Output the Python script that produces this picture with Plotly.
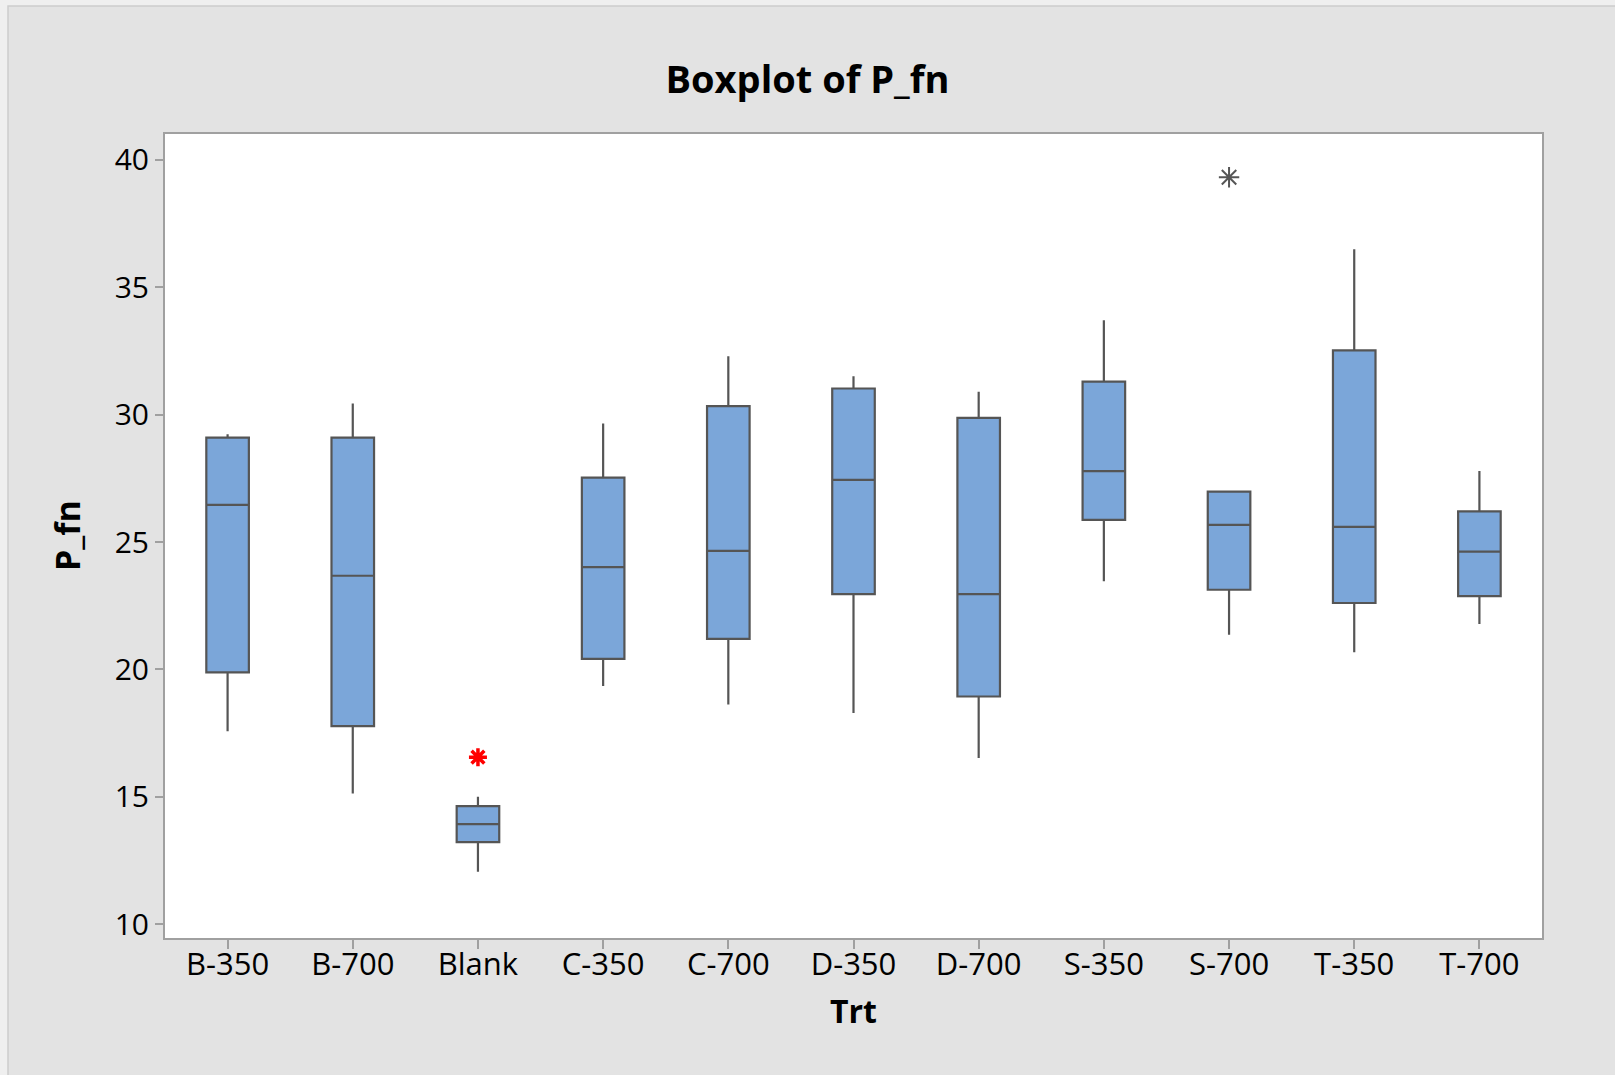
import plotly.graph_objects as go

categories = ["B-350", "B-700", "Blank", "C-350", "C-700", "D-350", "D-700",
              "S-350", "S-700", "T-350", "T-700"]
lower_whisker = [17.58, 15.13, 12.06, 19.35, 18.63, 18.29, 16.53, 23.46, 21.36, 20.68, 21.79]
q1_values     = [19.89, 17.78, 13.22, 20.42, 21.20, 22.96, 18.94, 25.87, 23.13, 22.61, 22.88]
median_values = [26.46, 23.68, 13.93, 24.02, 24.66, 27.44, 22.96, 27.79, 25.68, 25.60, 24.63]
q3_values     = [29.10, 29.10, 14.64, 27.53, 30.34, 31.03, 29.88, 31.30, 26.98, 32.53, 26.21]
upper_whisker = [29.23, 30.44, 15.00, 29.66, 32.30, 31.51, 30.90, 33.71, 26.98, 36.50, 27.79]

outlier_red_cat = ["Blank"]
outlier_red_val = [16.56]
outlier_gray_cat = ["S-700"]
outlier_gray_val = [39.32]

y_ticks = [10, 15, 20, 25, 30, 35, 40]

W, H = 1615, 1075
ML, MR, MT, MB = 165, 73, 134, 137
PW, PH = W - ML - MR, H - MT - MB

def px_x(p):
    return (p - ML) / PW

def px_y(p):
    return (H - MB - p) / PH

FONT = "Open Sans"

fig = go.Figure()

fig.add_trace(go.Box(
    x=categories,
    q1=q1_values,
    median=median_values,
    q3=q3_values,
    lowerfence=lower_whisker,
    upperfence=upper_whisker,
    boxpoints=False,
    width=0.34,
    fillcolor="#7BA6D9",
    line=dict(color="#555555", width=2.2),
    whiskerwidth=0,
    showlegend=False,
    hoverinfo="skip",
))

fig.add_trace(go.Scatter(
    x=outlier_red_cat, y=outlier_red_val, mode="markers",
    marker=dict(symbol="asterisk-open", size=15, color="#FF0000",
                line=dict(color="#FF0000", width=3.5)),
    showlegend=False, hoverinfo="skip",
))
fig.add_trace(go.Scatter(
    x=outlier_gray_cat, y=outlier_gray_val, mode="markers",
    marker=dict(symbol="asterisk-open", size=17, color="#555555",
                line=dict(color="#555555", width=2)),
    showlegend=False, hoverinfo="skip",
))

shapes = [
    dict(type="rect", xref="paper", yref="paper", layer="below",
         x0=px_x(8), x1=px_x(W + 20), y0=px_y(H + 20), y1=px_y(6),
         fillcolor="#E3E3E3", line=dict(color="#CDCDCD", width=1.5)),
    dict(type="rect", xref="paper", yref="paper", layer="below",
         x0=0, x1=1, y0=0, y1=1, fillcolor="#FFFFFF", line=dict(width=0)),
]

annotations = [
    dict(text="<b>P_fn</b>", xref="paper", yref="paper",
         x=px_x(67), y=0.5, textangle=-90, showarrow=False,
         xanchor="center", yanchor="middle",
         font=dict(family=FONT, size=34, color="#000000")),
    dict(text="<b>Trt</b>", xref="paper", yref="paper",
         x=0.5, y=px_y(1010), showarrow=False,
         xanchor="center", yanchor="middle",
         font=dict(family=FONT, size=32, color="#000000")),
]

fig.update_layout(
    width=W, height=H,
    margin=dict(l=ML, r=MR, t=MT, b=MB, pad=0),
    paper_bgcolor="#EFEFEF",
    plot_bgcolor="rgba(0,0,0,0)",
    title=dict(text="<b>Boxplot of P_fn</b>", x=0.5, xref="container",
               y=1 - 80 / H, yref="container", xanchor="center", yanchor="middle",
               font=dict(family=FONT, size=38, color="#000000")),
    shapes=shapes,
    annotations=annotations,
    font=dict(family=FONT, color="#000000"),
)

fig.update_xaxes(
    type="category", categoryorder="array", categoryarray=categories,
    range=[-0.5, len(categories) - 0.5],
    showgrid=False, zeroline=False,
    showline=True, linecolor="#A0A0A0", linewidth=2, mirror=True,
    ticks="outside", ticklen=9, tickwidth=2, tickcolor="#A0A0A0",
    ticklabelstandoff=-11,
    tickfont=dict(family=FONT, size=31, color="#000000"),
)
fig.update_yaxes(
    range=[9.46, 41.02], tickvals=y_ticks,
    showgrid=False, zeroline=False,
    showline=True, linecolor="#A0A0A0", linewidth=2, mirror=True,
    ticks="outside", ticklen=8, tickwidth=2, tickcolor="#A0A0A0",
    tickfont=dict(family=FONT, size=30, color="#000000"),
)

fig.write_html("out.html")
